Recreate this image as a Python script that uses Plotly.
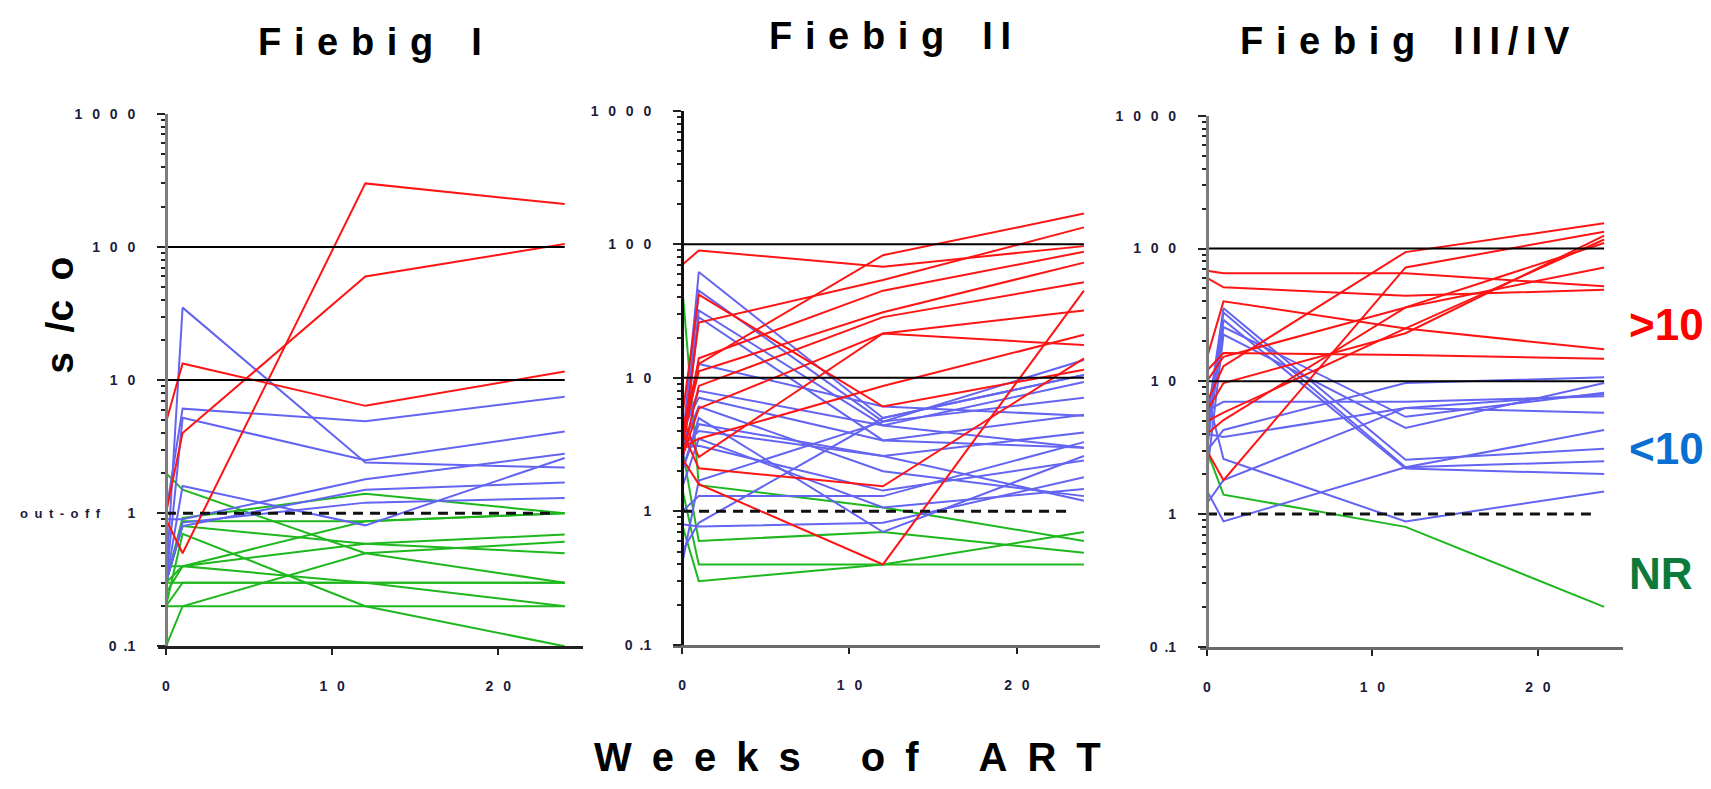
import plotly.graph_objects as go

# ---------------- data ----------------
WEEKS = [0, 1, 12, 24]

F1_RED = [
    [0.9, 0.5, 300, 210],
    [1.0, 4.0, 60, 105],
    [4.8, 13.3, 6.4, 11.6],
]
F1_BLUE = [
    [0.3, 35, 2.4, 2.2],
    [1.0, 6.1, 4.9, 7.5],
    [0.3, 5.2, 2.5, 4.1],
    [0.3, 1.6, 0.81, 2.6],
    [0.9, 0.9, 1.8, 2.8],
    [0.3, 0.8, 1.5, 1.7],
    [0.3, 0.85, 1.2, 1.3],
]
F1_GREEN = [
    [2.0, 1.5, 0.5, 0.3],
    [0.3, 0.92, 1.4, 1.0],
    [0.3, 0.87, 0.87, 1.0],
    [0.2, 0.7, 0.2, 0.1],
    [0.4, 0.4, 0.87, 1.0],
    [0.25, 0.4, 0.59, 0.69],
    [0.3, 0.3, 0.3, 0.3],
    [0.2, 0.3, 0.3, 0.2],
    [0.1, 0.2, 0.5, 0.61],
    [0.2, 0.2, 0.2, 0.2],
    [0.3, 0.8, 0.59, 0.5],
    [0.3, 0.4, 0.3, 0.3],
]

F2_RED = [
    [70, 90, 68, 97],
    [4, 12.7, 83, 170],
    [3, 26, 54, 134],
    [5, 42, 6.1, 11.5],
    [3, 14, 45, 88],
    [3.5, 11.2, 31, 73],
    [2.5, 8.7, 28.5, 52],
    [2.5, 5.9, 21.5, 17.6],
    [2.5, 1.6, 0.4, 45],
    [4, 2.1, 1.54, 14],
    [5, 2.55, 21.5, 32],
    [3, 3.5, 8.7, 21],
]
F2_BLUE = [
    [3, 62, 5, 10.5],
    [2.5, 45, 4.7, 13.6],
    [2, 32, 4.4, 9.3],
    [2.5, 28.5, 3.4, 5.3],
    [3, 12.7, 6.1, 5.2],
    [4, 7.1, 3.4, 3.0],
    [3, 6.1, 2.0, 1.3],
    [2, 4.5, 2.6, 3.9],
    [3, 3.1, 1.43, 2.4],
    [0.4, 1.7, 4.7, 7.1],
    [1, 1.3, 1.3, 3.3],
    [0.5, 0.82, 5, 10.5],
    [0.8, 0.77, 0.82, 1.8],
    [1.5, 3.5, 1.07, 1.47],
    [2, 5, 0.7, 2.6],
    [3, 4, 2.6, 1.2],
    [4, 8, 4.4, 3.0],
]
F2_GREEN = [
    [50, 1.57, 1.07, 0.6],
    [3, 0.6, 0.7, 0.49],
    [1.5, 0.4, 0.4, 0.4],
    [0.8, 0.3, 0.4, 0.7],
]

F3_RED = [
    [68, 65, 65, 52],
    [60, 51, 44, 49],
    [15, 40, 25, 17.4],
    [12, 16.3, 15.8, 14.8],
    [10, 15.3, 36, 72],
    [7, 13, 94, 155],
    [6, 9.7, 23, 125],
    [5, 5.8, 25, 117],
    [4, 5.1, 36, 110],
    [3, 1.8, 72, 134],
]
F3_BLUE = [
    [5, 35.5, 2.56, 3.1],
    [4, 33, 2.25, 2.5],
    [3, 29, 2.2, 2.0],
    [3.5, 25.6, 5.4, 8.2],
    [2, 22.5, 4.45, 9.7],
    [6, 7, 7.0, 7.7],
    [3, 4.3, 9.7, 10.7],
    [1.2, 1.8, 6.3, 5.8],
    [8, 2.6, 0.88, 1.48],
    [1.5, 0.88, 2.25, 4.3],
    [4, 3.8, 6.3, 8.0],
]
F3_GREEN = [
    [3, 1.4, 0.8, 0.2],
]

PANEL_TITLES = [("Fiebig", "I"), ("Fiebig", "II"), ("Fiebig", "III/IV")]
Y_TICKS = [0.1, 1, 10, 100, 1000]
Y_TICK_TEXT = ["0\u2002.1", "1", "1\u2002\u20090", "1\u2002\u20090\u2002\u20090", "1\u2002\u20090\u2002\u20090\u2002\u20090"]
X_TICKS = [0, 10, 20]
X_TICK_TEXT = ["0", "1\u2002\u20090", "2\u2002\u20090"]
CUTOFF = 1
THRESHOLDS = [10, 100]

# ---------------- styling ----------------
W, H = 1711, 789
RED, BLUE, GREEN = "#FF1414", "#6464F2", "#1EB81E"
TICKCOL = "#1c1c3c"
SANS = "Liberation Sans, Arial, sans-serif"

panels = [
    dict(px=(158, 583), py=(651.5, 108), xr=(-0.48, 25.1), ycol="#7c7c7c", xcol="#222222"),
    dict(px=(673, 1100), py=(650, 105), xr=(-0.54, 24.96), ycol="#111111", xcol="#6a6a6a"),
    dict(px=(1200, 1623), py=(652, 110), xr=(-0.42, 25.14), ycol="#7c7c7c", xcol="#6a6a6a"),
]
groups = [
    (F1_RED, F1_BLUE, F1_GREEN),
    (F2_RED, F2_BLUE, F2_GREEN),
    (F3_RED, F3_BLUE, F3_GREEN),
]

fig = go.Figure()
minor_vals = [m * 10 ** e for e in range(-1, 3) for m in range(2, 10)]

for i, (p, (reds, blues, greens)) in enumerate(zip(panels, groups), start=1):
    xa = "x" if i == 1 else f"x{i}"
    ya = "y" if i == 1 else f"y{i}"
    for series, col in ((greens, GREEN), (blues, BLUE), (reds, RED)):
        for vals in series:
            fig.add_trace(go.Scatter(x=WEEKS, y=vals, mode="lines",
                                     line=dict(color=col, width=2),
                                     xaxis=xa, yaxis=ya, showlegend=False,
                                     hoverinfo="skip"))
    for t in THRESHOLDS:
        fig.add_trace(go.Scatter(x=[0, 24], y=[t, t], mode="lines",
                                 line=dict(color="black", width=2),
                                 xaxis=xa, yaxis=ya, showlegend=False, hoverinfo="skip"))
    fig.add_trace(go.Scatter(x=[0, 23.2], y=[CUTOFF, CUTOFF], mode="lines",
                             line=dict(color="#111", width=3, dash="10px,7px"),
                             xaxis=xa, yaxis=ya, showlegend=False, hoverinfo="skip"))

    l, r = p["px"]
    b, t = p["py"]
    xmin, xmax = p["xr"]
    dom_x = [l / W, r / W]
    dom_y = [1 - b / H, 1 - t / H]
    ypos = dom_x[0] + (0 - xmin) / (xmax - xmin) * (dom_x[1] - dom_x[0])
    xkey = "xaxis" if i == 1 else f"xaxis{i}"
    ykey = "yaxis" if i == 1 else f"yaxis{i}"
    fig.update_layout(**{
        xkey: dict(domain=dom_x, range=[xmin, xmax], anchor=ya,
                   showline=True, linecolor=p["xcol"], linewidth=3,
                   ticks="outside", ticklen=6, tickwidth=2, tickcolor="#222",
                   tickmode="array", tickvals=X_TICKS, ticktext=X_TICK_TEXT,
                   tickfont=dict(family=SANS, size=14, color=TICKCOL, weight="bold"),
                   ticklabelstandoff=19, showgrid=False, zeroline=False),
        ykey: dict(domain=dom_y, type="log", range=[-1, 3], anchor="free",
                   position=ypos,
                   showline=True, linecolor=p["ycol"], linewidth=3,
                   ticks="outside", ticklen=8, tickwidth=2, tickcolor="#222",
                   tickmode="array", tickvals=Y_TICKS, ticktext=Y_TICK_TEXT,
                   tickfont=dict(family=SANS, size=14, color=TICKCOL, weight="bold"),
                   ticklabelstandoff=19, showgrid=False, zeroline=False,
                   minor=dict(tickmode="array", tickvals=minor_vals, ticks="outside",
                              ticklen=4, tickwidth=2, tickcolor="#222")),
    })


def spaced(word, sep):
    return sep.join(list(word))


def title_text(word, numeral):
    return spaced(word, "\u2004") + "\u2004\u2004\u2004" + spaced(numeral, "\u2009")


TFONT = dict(family=SANS, size=38, color="black", weight="bold")
annots = [
    dict(x=370 / W, y=1 - 35 / H, text=title_text(*PANEL_TITLES[0]), font=TFONT),
    dict(x=890 / W, y=1 - 29 / H, text=title_text(*PANEL_TITLES[1]), font=TFONT),
    dict(x=1405 / W, y=1 - 34 / H, text=title_text(*PANEL_TITLES[2]), font=TFONT),
    dict(x=847 / W, y=0, yanchor="bottom",
         text="\u2002".join(list("Weeks")) + "\u2002\u2002\u2002" + "\u2002".join(list("of")) + "\u2002\u2002\u2002" + "\u2002".join(list("ART")),
         font=dict(family=SANS, size=40, color="black", weight="bold")),
    dict(x=60 / W, y=1 - 314 / H, text="s\u2002/c\u2002o", textangle=-90,
         font=dict(family=SANS, size=39, color="black", weight="bold")),
    dict(x=60 / W, y=1 - 516 / H, text="o\u2002u\u2002t\u2002-\u2002o\u2002f\u2002f",
         font=dict(family=SANS, size=13, color=TICKCOL, weight="bold")),
    dict(x=1666 / W, y=1 - 323 / H, text="&gt;10", font=dict(family=SANS, size=44, color="#FF0000", weight="bold")),
    dict(x=1666 / W, y=1 - 450 / H, text="&lt;10", font=dict(family=SANS, size=44, color="#0A6FD0", weight="bold")),
    dict(x=1661 / W, y=1 - 577 / H, text="NR", font=dict(family=SANS, size=44, color="#0B7A3B", weight="bold")),
]
for a in annots:
    a.update(xref="paper", yref="paper", showarrow=False, xanchor="center")
    a.setdefault("yanchor", "middle")

fig.update_layout(width=W, height=H, margin=dict(l=0, r=0, t=0, b=0),
                  paper_bgcolor="white", plot_bgcolor="rgba(0,0,0,0)",
                  annotations=annots, showlegend=False)

fig.write_html("out.html")
